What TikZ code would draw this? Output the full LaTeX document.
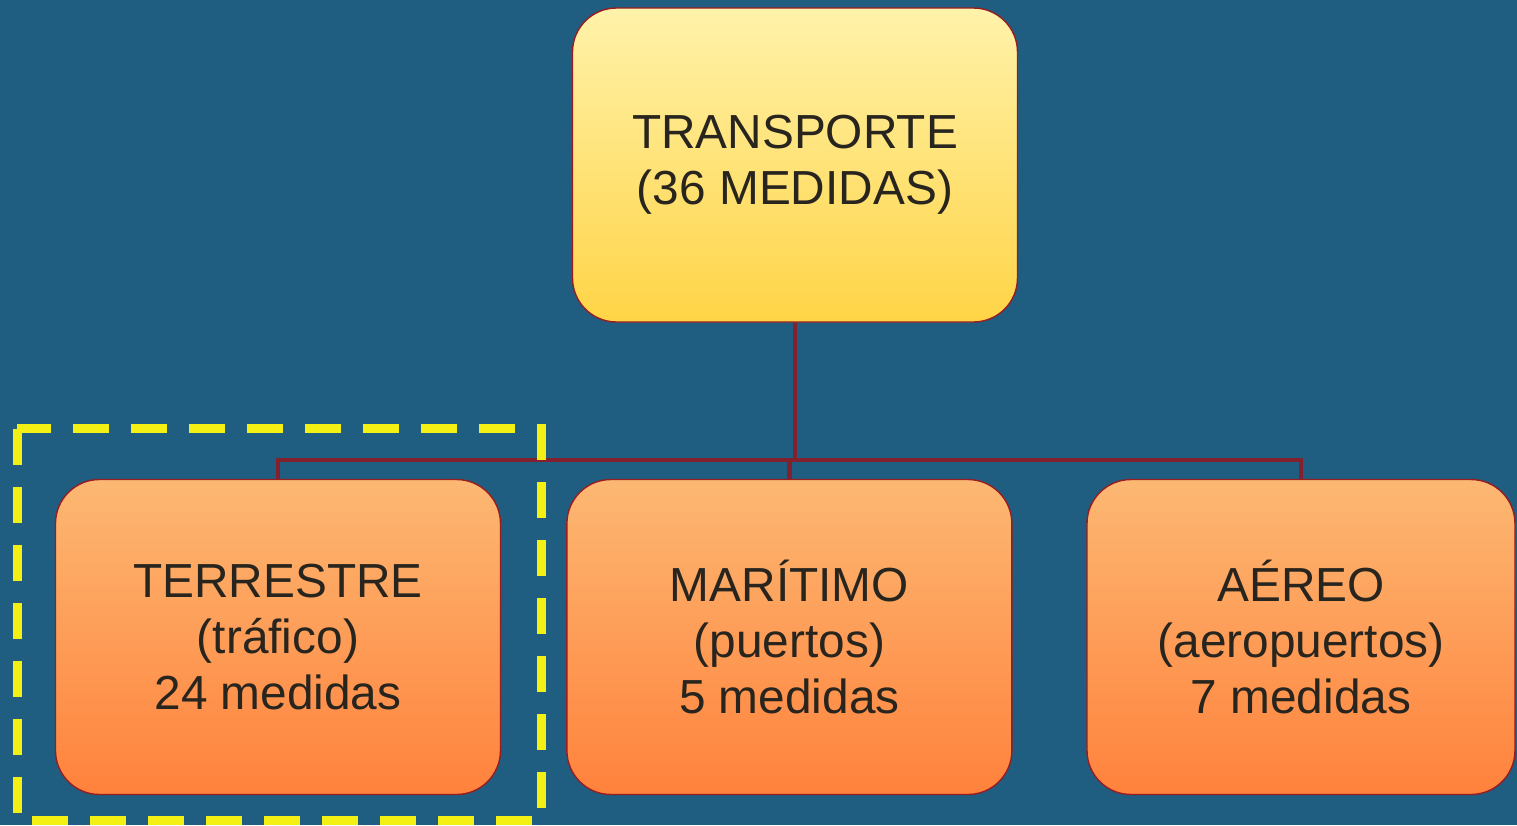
\documentclass[tikz,border=0pt]{standalone}
\usepackage{fontspec}
\setmainfont{Liberation Sans}
\definecolor{fondo}{RGB}{31,94,128}
\definecolor{borde}{RGB}{150,30,35}
\definecolor{conector}{RGB}{130,32,45}
\definecolor{texto}{RGB}{40,36,30}
\definecolor{amarilloclaro}{RGB}{255,242,170}
\definecolor{amarillooscuro}{RGB}{255,212,70}
\definecolor{naranjaclaro}{RGB}{252,184,115}
\definecolor{naranjaoscuro}{RGB}{255,130,60}
\definecolor{marca}{RGB}{245,240,20}
\begin{document}
\begin{tikzpicture}[grow=down,%
level 1/.style={sibling distance=12.925cm,level distance=11.8cm},
every node/.style={rectangle,draw=borde,line width=1pt,rounded corners=1.1cm,
  minimum width=11.125cm,minimum height=7.875cm,inner sep=0pt,align=center,
  text=texto,font=\fontsize{34}{40}\selectfont},
edge from parent/.style={draw=conector,line width=3pt},
edge from parent path={(\tikzparentnode.south) -- ++(0,-3.425cm) -| (\tikzchildnode.north)},
raiz/.style={top color=amarilloclaro,bottom color=amarillooscuro,minimum height=7.85cm},
hoja/.style={top color=naranjaclaro,bottom color=naranjaoscuro},
recuadro/.style={draw=marca,line width=6.4pt,dash pattern=on 0.9cm off 0.55cm} ]
\useasboundingbox (-19.875,4.125) rectangle (18.05,-16.5);
\fill[fondo] (-19.875,4.125) rectangle (18.05,-16.5);
\node[raiz] (transporte) {TRANSPORTE\\(36 MEDIDAS)}
child {node[hoja] (terrestre) {TERRESTRE\\(tráfico)\\24 medidas}}
child {node[hoja,xshift=-0.14cm] (maritimo) {MARÍTIMO\\(puertos)\\5 medidas}}
child {node[hoja,minimum width=10.7cm,xshift=-0.275cm] (aereo) {AÉREO\\(aeropuertos)\\7 medidas}};
% marca sobre la rama terrestre
\draw[recuadro] ([shift={(-0.94cm,1.25cm)}]terrestre.north west) rectangle
  ([shift={(1.01cm,-0.625cm)}]terrestre.south east);
\end{tikzpicture}
\end{document}
